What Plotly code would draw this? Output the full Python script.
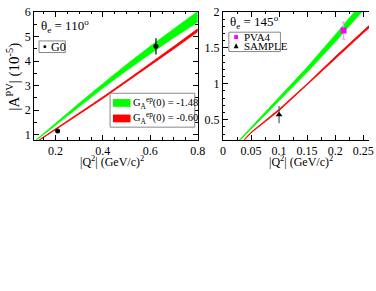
import plotly.graph_objects as go

# ---------------- data ----------------
# Left panel (theta_e = 110 deg)
q2_left = [0.11, 0.2, 0.3, 0.4, 0.5, 0.6, 0.7, 0.8]
green_left_hi = [0.73, 1.48, 2.28, 3.08, 3.86, 4.60, 5.32, 6.02]
green_left_lo = [0.71, 1.42, 2.16, 2.90, 3.62, 4.30, 4.96, 5.58]
red_left_hi = [0.66, 1.235, 1.88, 2.54, 3.215, 3.90, 4.60, 5.31]
red_left_lo = [0.64, 1.205, 1.84, 2.48, 3.145, 3.82, 4.50, 5.19]

g0_q2 = [0.209, 0.624]
g0_a = [1.16, 4.60]
g0_err = [0.08, 0.33]

# Right panel (theta_e = 145 deg)
q2_right = [0.02, 0.05, 0.1, 0.15, 0.2, 0.25, 0.27]
green_right_hi = [0.14, 0.39, 0.80, 1.23, 1.68, 2.14, 2.33]
green_right_lo = [0.13, 0.37, 0.76, 1.16, 1.58, 2.02, 2.20]
red_right_hi = [0.075, 0.325, 0.645, 1.0, 1.375, 1.735, 1.88]
red_right_lo = [0.065, 0.315, 0.625, 0.98, 1.345, 1.705, 1.84]

pva4_q2 = [0.215]
pva4_a = [1.74]
pva4_err = [0.12]
sample_q2 = [0.1]
sample_a = [0.57]
sample_err = [0.12]

legend_left_labels = ["G<sub>A</sub><sup>ep</sup>(0) = -1.48", "G<sub>A</sub><sup>ep</sup>(0) = -0.60"]

GREEN = "#00ff00"
RED = "#ff0000"
MAGENTA = "#ff00ff"
FONT = "Liberation Serif"
W, H = 376, 291


def px(x):
    return x / W


def py(y):
    return 1 - y / H


fig = go.Figure()


def band(x, hi, lo, color, name, xa, ya):
    return go.Scatter(
        x=list(x) + list(x)[::-1],
        y=list(hi) + list(lo)[::-1],
        fill="toself",
        fillcolor=color,
        line=dict(color=color, width=0.8),
        mode="lines",
        name=name,
        xaxis=xa,
        yaxis=ya,
        showlegend=False,
        hoverinfo="skip",
    )


fig.add_trace(band(q2_left, green_left_hi, green_left_lo, GREEN, legend_left_labels[0], "x", "y"))
fig.add_trace(band(q2_left, red_left_hi, red_left_lo, RED, legend_left_labels[1], "x", "y"))
fig.add_trace(band(q2_right, green_right_hi, green_right_lo, GREEN, legend_left_labels[0], "x2", "y2"))
fig.add_trace(band(q2_right, red_right_hi, red_right_lo, RED, legend_left_labels[1], "x2", "y2"))

fig.add_trace(go.Scatter(
    x=g0_q2, y=g0_a, mode="markers", name="G0", showlegend=False,
    marker=dict(symbol="circle", size=5, color="black"),
    error_y=dict(type="data", array=g0_err, color="black", thickness=1.2, width=0),
    xaxis="x", yaxis="y"))

fig.add_trace(go.Scatter(
    x=pva4_q2, y=pva4_a, mode="markers", name="PVA4", showlegend=False,
    marker=dict(symbol="square", size=6, color=MAGENTA),
    error_y=dict(type="data", array=pva4_err, color="#ff99ff", thickness=1.2, width=2),
    xaxis="x2", yaxis="y2"))
fig.add_trace(go.Scatter(
    x=sample_q2, y=sample_a, mode="markers", name="SAMPLE", showlegend=False,
    marker=dict(symbol="triangle-up", size=6, color="black"),
    error_y=dict(type="data", array=sample_err, color="#555555", thickness=1.2, width=0),
    xaxis="x2", yaxis="y2"))

tickfont = dict(family=FONT, size=12, color="black")
common = dict(showline=True, linecolor="black", linewidth=1, ticks="inside",
              ticklen=5, tickcolor="black", showgrid=False, zeroline=False,
              tickfont=tickfont, ticklabeloverflow="allow")


def rect(x0, y0, x1, y1, fill, line="rgba(0,0,0,0)", lw=0):
    return dict(type="rect", xref="paper", yref="paper",
                x0=px(x0), x1=px(x1), y0=py(y1), y1=py(y0),
                fillcolor=fill, line=dict(color=line, width=lw), layer="above")


def label(text, x, y, size=12, anchor="left"):
    return dict(text=text, x=px(x), y=py(y), xref="paper", yref="paper",
                xanchor=anchor, yanchor="middle", showarrow=False,
                font=dict(family=FONT, size=size, color="black"))


shapes = [
    # G0 legend
    rect(37, 35, 64, 47, "white", "#888888", 1),
    dict(type="circle", xref="paper", yref="paper", x0=px(41.5), x1=px(44.5),
         y0=py(42.5), y1=py(39.5), fillcolor="black", line=dict(color="black", width=0),
         layer="above"),
    # band legend
    rect(110, 89, 197, 124, "white", "#888888", 1),
    rect(113, 95, 131, 103, GREEN),
    rect(113, 111, 131, 119, RED),
    # right legend
    rect(232, 26, 285, 46, "white", "#888888", 1),
    rect(237.5, 29, 241.5, 33, MAGENTA),
    dict(type="path", xref="paper", yref="paper",
         path="M {} {} L {} {} L {} {} Z".format(px(237), py(42.5), px(242), py(42.5), px(239.5), py(37.5)),
         fillcolor="black", line=dict(color="black", width=0), layer="above"),
]

annotations = [
    label("θ<sub>e</sub> = 110<sup>o</sup>", 37, 20, 13),
    label("θ<sub>e</sub> = 145<sup>o</sup>", 231, 15, 13),
    label("G0", 47, 41, 12),
    label(legend_left_labels[0], 132, 99, 10.5),
    label(legend_left_labels[1], 132, 115, 10.5),
    label("PVA4", 246, 31, 11),
    label("SAMPLE", 246, 40, 11),
    label("|Q<sup>2</sup>| (GeV/c)<sup>2</sup>", 112, 159, 12, "center"),
    label("|Q<sup>2</sup>| (GeV/c)<sup>2</sup>", 306, 159, 12, "center"),
    dict(text="|A<sup>PV</sup>| (10<sup>-5</sup>)", x=px(11), y=py(72),
         xref="paper", yref="paper", xanchor="center", yanchor="middle",
         textangle=-90, showarrow=False, font=dict(family=FONT, size=15, color="black")),
]

fig.update_layout(
    width=W, height=H,
    margin=dict(l=0, r=0, t=0, b=0),
    paper_bgcolor="white", plot_bgcolor="white",
    font=dict(family=FONT, color="black", size=12),
    showlegend=False,
    xaxis=dict(domain=[px(32), px(200)], range=[0.11, 0.8001], dtick=0.2, tick0=0,
               mirror="allticks", anchor="y",
               minor=dict(dtick=0.05, ticks="inside", ticklen=2.5, tickcolor="black"),
               **common),
    yaxis=dict(domain=[py(137), py(5)], range=[0.8, 6.001], dtick=1, tick0=0,
               mirror="allticks", anchor="x",
               minor=dict(dtick=0.5, ticks="inside", ticklen=2.5, tickcolor="black"),
               **common),
    xaxis2=dict(domain=[px(226), 1], range=[0, 0.2604], dtick=0.05, tick0=0,
                mirror="allticks", anchor="y2",
                minor=dict(dtick=0.025, ticks="inside", ticklen=2.5, tickcolor="black"),
                **common),
    yaxis2=dict(domain=[py(137), py(5)], range=[0.22, 2.001], dtick=0.5, tick0=0,
                mirror=False, anchor="x2",
                minor=dict(dtick=0.1, ticks="inside", ticklen=2.5, tickcolor="black"),
                **common),
    shapes=shapes,
    annotations=annotations,
)

fig.write_html("out.html",
               config={"displayModeBar": False},
               post_script="document.body.style.margin='0px';document.body.style.padding='0px';")
